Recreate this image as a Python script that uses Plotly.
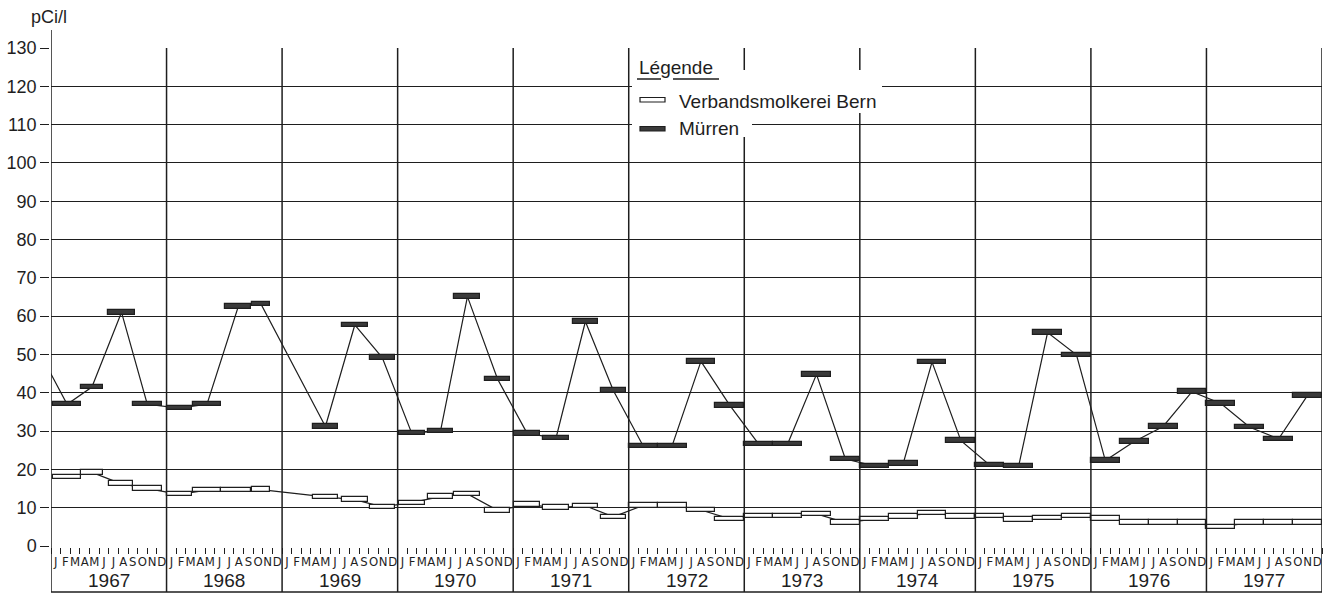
import plotly.graph_objects as go

# ---------------- data ----------------
years = list(range(1967, 1978))
month_letters = ["J", "F", "M", "A", "M", "J", "J", "A", "S", "O", "N", "D"]
y_tick_values = list(range(0, 131, 10))

# sampling periods in months since 1 January 1967 (start, end) and activity in pCi/l
muerren_start = [0.25, 3.1, 5.95, 8.5,
                 12.0, 14.7, 18.1, 20.9,
                 27.2, 30.2, 33.1,
                 36.1, 39.2, 41.9, 45.05,
                 48.1, 51.1, 54.2, 57.1,
                 60, 63, 66, 69,
                 72, 75, 78, 81,
                 84, 87, 90, 93,
                 96, 99, 102, 105,
                 108, 111, 114, 117,
                 120, 123, 126, 129]
muerren_end = [3.1, 5.4, 8.7, 11.5,
               14.6, 17.7, 20.8, 22.7,
               29.8, 32.9, 35.7,
               38.8, 41.7, 44.6, 47.7,
               50.8, 53.8, 56.8, 59.7,
               63, 66, 69, 72,
               75, 78, 81, 84,
               87, 90, 93, 96,
               99, 102, 105, 108,
               111, 114, 117, 120,
               123, 126, 129, 132]
muerren_value = [37.0, 41.5, 61.0, 37.0,
                 36.0, 37.0, 62.5, 63.2,
                 31.2, 57.7, 49.2,
                 29.5, 30.0, 65.1, 43.6,
                 29.4, 28.2, 58.6, 40.6,
                 26.1, 26.1, 48.2, 36.7,
                 26.6, 26.6, 44.8, 22.7,
                 20.9, 21.5, 48.0, 27.5,
                 21.1, 20.9, 55.7, 49.9,
                 22.3, 27.3, 31.2, 40.3,
                 37.2, 31.0, 28.0, 39.3]
# last period of 1966 (only its connecting line enters the chart)
muerren_1966_mid = -1.5
muerren_1966_value = 52.0

bern_start = [0.25, 3.1, 6.0, 8.5,
              12.0, 14.7, 17.7, 20.9,
              27.2, 30.2, 33.1,
              36.1, 39.2, 41.9, 45.05,
              48.1, 51.1, 54.2, 57.1,
              60, 63, 66, 69,
              72, 75, 78, 81,
              84, 87, 90, 93,
              96, 99, 102, 105,
              108, 111, 114, 117,
              120, 123, 126, 129]
bern_end = [3.1, 5.4, 8.5, 11.5,
            14.6, 17.7, 20.8, 22.7,
            29.8, 32.9, 35.7,
            38.8, 41.7, 44.6, 47.7,
            50.8, 53.8, 56.8, 59.7,
            63, 66, 69, 72,
            75, 78, 81, 84,
            87, 90, 93, 96,
            99, 102, 105, 108,
            111, 114, 117, 120,
            123, 126, 129, 132]
bern_value = [18.0, 19.2, 16.3, 15.0,
              13.5, 14.6, 14.6, 14.7,
              12.8, 12.1, 10.2,
              11.3, 12.9, 13.6, 9.3,
              10.8, 10.0, 10.5, 7.6,
              10.6, 10.6, 9.4, 7.1,
              7.8, 7.8, 8.4, 6.1,
              7.0, 7.7, 8.6, 7.7,
              7.8, 6.9, 7.3, 7.8,
              7.2, 6.1, 6.1, 6.1,
              5.0, 6.1, 6.1, 6.1]

# ---------------- figure ----------------
INK = "#1e1e1e"
FONT = "Liberation Sans"
NARROW = "Liberation Sans Narrow, DejaVu Sans Condensed, Liberation Sans"
W, H = 1337, 597
ML, MR, MT, MB = 51, 15, 48, 51
PW, PH = W - ML - MR, H - MT - MB


def px_x(px):
    return (px - ML) / PW


def px_y(py):
    return 1 - (py - MT) / PH


n_months = 12 * len(years)
bar_thickness = 1.15

fig = go.Figure()

m_mid = [(s + e) / 2 for s, e in zip(muerren_start, muerren_end)]
b_mid = [(s + e) / 2 for s, e in zip(bern_start, bern_end)]

fig.add_trace(go.Scatter(x=[muerren_1966_mid] + m_mid, y=[muerren_1966_value] + muerren_value,
                         mode="lines", line=dict(color=INK, width=1.2),
                         showlegend=False, hoverinfo="skip", zorder=0))
fig.add_trace(go.Scatter(x=b_mid, y=bern_value, mode="lines",
                         line=dict(color=INK, width=1.2),
                         showlegend=False, hoverinfo="skip", zorder=0))

fig.add_trace(go.Bar(orientation="h", base=bern_start,
                     x=[e - s for s, e in zip(bern_start, bern_end)],
                     y=bern_value, width=bar_thickness,
                     marker=dict(color="white", line=dict(color=INK, width=1.2)),
                     name="Verbandsmolkerei Bern", showlegend=False, zorder=1))
fig.add_trace(go.Bar(orientation="h", base=muerren_start,
                     x=[e - s for s, e in zip(muerren_start, muerren_end)],
                     y=muerren_value, width=bar_thickness,
                     marker=dict(color="#3a3a3a", line=dict(color=INK, width=1.2)),
                     name="Mürren", showlegend=False, zorder=1))

month_centers = [i + 0.5 for i in range(n_months)]
month_text = [month_letters[i % 12] for i in range(n_months)]

shapes = []
bottom = px_y(592)
# year separators and frame
for k in range(len(years) + 1):
    shapes.append(dict(type="line", xref="x", yref="paper", x0=12 * k, x1=12 * k,
                       y0=bottom, y1=1, line=dict(color=INK, width=1.5), layer="above"))
shapes.append(dict(type="line", xref="x", yref="paper", x0=0, x1=0,
                   y0=1, y1=px_y(30), line=dict(color=INK, width=1.5)))
shapes.append(dict(type="line", xref="x", yref="paper", x0=0, x1=n_months,
                   y0=bottom, y1=bottom, line=dict(color=INK, width=1.5)))

# legend: white mask, symbols
for (x0, x1, y0, y1) in [(632, 882, 70, 113), (632, 752, 113, 137), (632, 726, 52, 70)]:
    shapes.append(dict(type="rect", xref="paper", yref="paper",
                       x0=px_x(x0), x1=px_x(x1), y0=px_y(y1), y1=px_y(y0),
                       fillcolor="white", line=dict(width=0), layer="above"))
for (u0, u1) in [(637, 661), (673, 719)]:
    shapes.append(dict(type="line", xref="paper", yref="paper",
                       x0=px_x(u0), x1=px_x(u1), y0=px_y(79), y1=px_y(79),
                       line=dict(color=INK, width=1.5), layer="above"))
shapes.append(dict(type="rect", xref="paper", yref="paper",
                   x0=px_x(640), x1=px_x(665), y0=px_y(102), y1=px_y(97.5),
                   fillcolor="white", line=dict(color=INK, width=1.2), layer="above"))
shapes.append(dict(type="rect", xref="paper", yref="paper",
                   x0=px_x(640), x1=px_x(665), y0=px_y(131), y1=px_y(126.5),
                   fillcolor="#3a3a3a", line=dict(color=INK, width=1.2), layer="above"))

annotations = []
for k, yr in enumerate(years):
    annotations.append(dict(x=12 * k + 6, y=0, xref="x", yref="paper", yshift=-34,
                            xanchor="center", yanchor="middle",
                            text=str(yr), showarrow=False,
                            font=dict(family=FONT, size=19, color=INK)))
annotations.append(dict(x=px_x(49), y=px_y(17), xref="paper", yref="paper",
                        xanchor="center", yanchor="middle",
                        text="pCi/l", showarrow=False,
                        font=dict(family=FONT, size=18, color=INK)))
annotations.append(dict(x=px_x(637), y=px_y(67), xref="paper", yref="paper",
                        xanchor="left", yanchor="middle", text="Légende", showarrow=False,
                        font=dict(family=FONT, size=19, color=INK)))
annotations.append(dict(x=px_x(677), y=px_y(101), xref="paper", yref="paper",
                        xanchor="left", yanchor="middle",
                        text="Verbandsmolkerei Bern", showarrow=False,
                        font=dict(family=FONT, size=19, color=INK)))
annotations.append(dict(x=px_x(677), y=px_y(128), xref="paper", yref="paper",
                        xanchor="left", yanchor="middle", text="Mürren", showarrow=False,
                        font=dict(family=FONT, size=19, color=INK)))

fig.update_layout(
    width=W, height=H,
    margin=dict(l=ML, r=MR, t=MT, b=MB, autoexpand=False),
    paper_bgcolor="white", plot_bgcolor="white",
    barmode="overlay", bargap=0,
    shapes=shapes, annotations=annotations,
    font=dict(family=FONT, color=INK),
    xaxis=dict(range=[0, n_months], tickmode="array", tickvals=month_centers,
               ticktext=month_text, ticks="", tickangle=0,
               tickfont=dict(family=NARROW, size=13, color=INK),
               ticklabelstandoff=3,
               showgrid=False, zeroline=False, showline=True,
               linecolor=INK, linewidth=1.5,
               minor=dict(tickmode="linear", tick0=0, dtick=1, ticks="outside",
                          ticklen=6, tickcolor=INK, tickwidth=1.2, showgrid=False)),
    yaxis=dict(range=[0, 130], tickmode="array", tickvals=y_tick_values,
               ticks="outside", ticklen=9, tickcolor=INK, tickwidth=1.3,
               tickfont=dict(family=FONT, size=18, color=INK),
               showgrid=True, gridcolor=INK, gridwidth=1.3,
               zeroline=False, showline=True, linecolor=INK, linewidth=1.5),
)

fig.write_html("out.html", config={"displayModeBar": False},
               post_script="document.body.style.margin='0';")
